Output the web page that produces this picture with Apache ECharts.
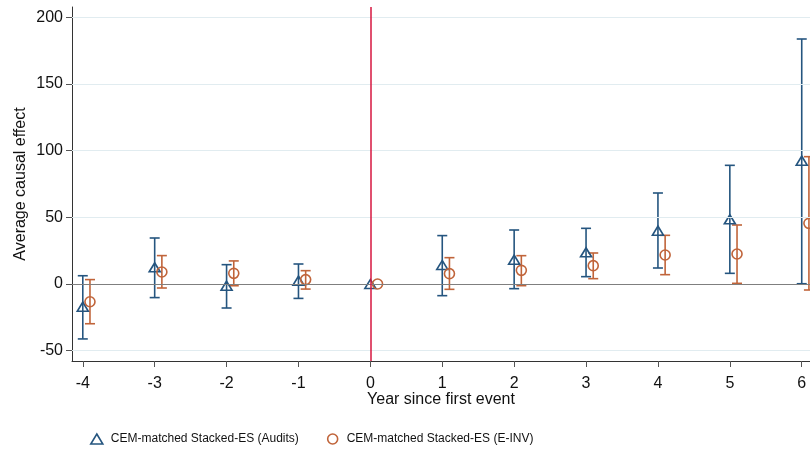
<!DOCTYPE html>
<html><head><meta charset="utf-8">
<script src="https://cdn.jsdelivr.net/npm/echarts@6/dist/echarts.min.js"></script>
<style>html,body{margin:0;padding:0;background:#fff}#c{width:810px;height:450px}</style>
</head><body><div id="c"></div>
<script>
const years = [-4, -3, -2, -1, 0, 1, 2, 3, 4, 5, 6];
const auditsEst = [-17, 12.5, -1.3, 2.5, 0, 14.25, 18.25, 23.75, 40, 48.5, 92.5];
const auditsLo  = [-41.2, -10.2, -18, -10.8, null, -8.75, -3.5, 5.5, 12, 8, 0.2];
const auditsHi  = [6.2, 34.5, 14.5, 15, null, 36.3, 40.5, 41.75, 68.25, 89, 183.75];
const einvEst = [-13.3, 9, 8, 3.3, 0, 7.75, 10.25, 13.75, 21.75, 22.5, 45.5];
const einvLo  = [-29.8, -3, -1.3, -3.8, null, -4, -1.25, 4, 7, 0.5, -4.5];
const einvHi  = [3.3, 21.3, 17.3, 10, null, 19.75, 21.25, 23.25, 36.5, 44.25, 95.5];
const yTicks = [-50, 0, 50, 100, 150, 200];
const xTicks = [-4, -3, -2, -1, 0, 1, 2, 3, 4, 5, 6];
const gridLines = [-50, 50, 100, 150, 200];
const offset = 0.1;
const blue = '#25557f', orange = '#c0643a';
const font = 'Liberation Sans, Arial, sans-serif';

function barData(est, lo, hi, off) {
  const out = [];
  years.forEach((y, i) => { if (lo[i] != null) out.push([y + off, lo[i], hi[i]]); });
  return out;
}
function ptData(est, off) { return years.map((y, i) => [y + off, est[i]]); }

function errRender(color) {
  return function (params, api) {
    const x = api.value(0);
    const lo = api.coord([x, api.value(1)]);
    const hi = api.coord([x, api.value(2)]);
    const w = 5;
    const st = { stroke: color, lineWidth: 1.6, fill: null };
    return { type: 'group', children: [
      { type: 'line', shape: { x1: lo[0], y1: lo[1], x2: hi[0], y2: hi[1] }, style: st },
      { type: 'line', shape: { x1: lo[0] - w, y1: lo[1], x2: lo[0] + w, y2: lo[1] }, style: st },
      { type: 'line', shape: { x1: hi[0] - w, y1: hi[1], x2: hi[0] + w, y2: hi[1] }, style: st }
    ]};
  };
}

const chart = echarts.init(document.getElementById('c'), null, { renderer: 'canvas' });
chart.setOption({
  animation: false,
  backgroundColor: '#fff',
  grid: { left: 72, right: 0, top: 7, bottom: 89, containLabel: false },
  xAxis: {
    type: 'value', min: -4.15, max: 6.115,
    name: 'Year since first event', nameLocation: 'middle', nameGap: 31, nameMoveOverlap: false,
    nameTextStyle: { fontFamily: font, fontSize: 16, color: '#111' },
    axisLine: { show: true, onZero: false, lineStyle: { color: '#333', width: 1 } },
    axisTick: { show: true, length: 6, customValues: xTicks, lineStyle: { color: '#555' } },
    axisLabel: { customValues: xTicks, fontFamily: font, fontSize: 16, color: '#111', margin: 15 },
    splitLine: { show: false }
  },
  yAxis: {
    type: 'value', min: -57.75, max: 207.75,
    name: 'Average causal effect', nameLocation: 'middle', nameGap: 43, nameRotate: 90, nameMoveOverlap: false,
    nameTextStyle: { fontFamily: font, fontSize: 16, color: '#111' },
    axisLine: { show: true, onZero: false, lineStyle: { color: '#333', width: 1 } },
    axisTick: { show: true, length: 6, customValues: yTicks, lineStyle: { color: '#555' } },
    axisLabel: { customValues: yTicks, fontFamily: font, fontSize: 16, color: '#111', margin: 9 },
    splitLine: { show: false }
  },
  legend: {
    bottom: 0, left: 85, itemGap: 28, itemWidth: 12, itemHeight: 10,
    textStyle: { fontFamily: font, fontSize: 12, color: '#111', padding: [0, 0, 0, 3] },
    data: [
      { name: 'CEM-matched Stacked-ES (Audits)', icon: 'triangle', itemStyle: { color: 'transparent', borderColor: blue, borderWidth: 1.6 } },
      { name: 'CEM-matched Stacked-ES (E-INV)', icon: 'circle', itemStyle: { color: 'transparent', borderColor: orange, borderWidth: 1.6 } }
    ]
  },
  series: [
    {
      type: 'line', data: [], silent: true,
      markLine: {
        symbol: 'none', silent: true, label: { show: false },
        lineStyle: { type: 'solid', color: '#e1ecf0', width: 1 },
        data: gridLines.map(v => ({ yAxis: v }))
      }
    },
    {
      type: 'line', data: [], silent: true,
      markLine: {
        symbol: 'none', silent: true, label: { show: false },
        data: [
          { yAxis: 0, lineStyle: { type: 'solid', color: '#7f7f7f', width: 1.2 } },
          { xAxis: 0, lineStyle: { type: 'solid', color: '#d6163f', width: 1.5 } }
        ]
      }
    },
    { type: 'custom', renderItem: errRender(blue), data: barData(auditsEst, auditsLo, auditsHi, 0), encode: { x: 0, y: [1, 2] }, z: 3 },
    { type: 'custom', renderItem: errRender(orange), data: barData(einvEst, einvLo, einvHi, offset), encode: { x: 0, y: [1, 2] }, z: 3 },
    {
      name: 'CEM-matched Stacked-ES (Audits)', type: 'scatter', symbol: 'triangle', symbolSize: [11, 9],
      itemStyle: { color: 'rgba(0,0,0,0)', borderColor: blue, borderWidth: 1.6, opacity: 1 },
      data: ptData(auditsEst, 0), z: 4
    },
    {
      name: 'CEM-matched Stacked-ES (E-INV)', type: 'scatter', symbol: 'circle', symbolSize: 10,
      itemStyle: { color: 'rgba(0,0,0,0)', borderColor: orange, borderWidth: 1.6, opacity: 1 },
      data: ptData(einvEst, offset), z: 4
    }
  ]
});
</script></body></html>
